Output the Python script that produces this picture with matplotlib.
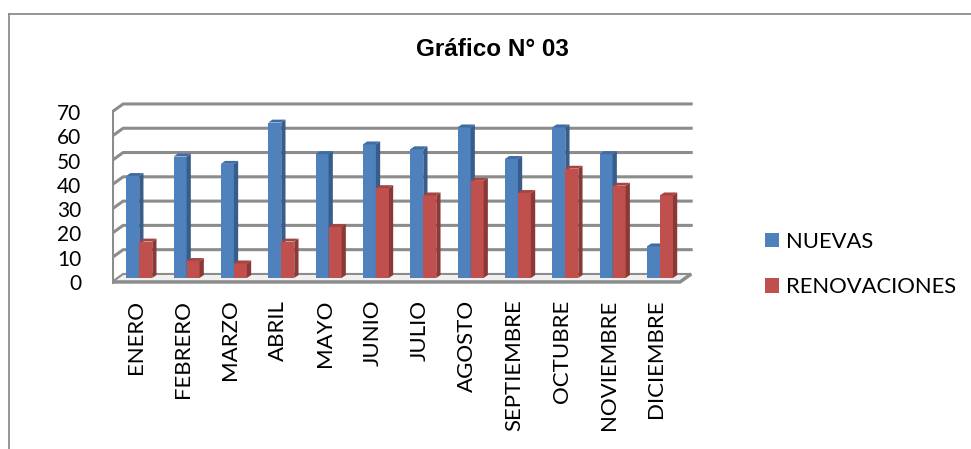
import matplotlib.pyplot as plt
from matplotlib.patches import Polygon, Patch
from matplotlib.lines import Line2D

meses = ['ENERO', 'FEBRERO', 'MARZO', 'ABRIL', 'MAYO', 'JUNIO', 'JULIO',
         'AGOSTO', 'SEPTIEMBRE', 'OCTUBRE', 'NOVIEMBRE', 'DICIEMBRE']
nuevas = [42, 50, 47, 64, 51, 55, 53, 62, 49, 62, 51, 13]
renovaciones = [15, 7, 6, 15, 21, 37, 34, 40, 35, 45, 38, 34]
marcas_y = [0, 10, 20, 30, 40, 50, 60, 70]

series = [('NUEVAS', nuevas, '#4F81BD', '#385D8A', '#3F6CA3'),
          ('RENOVACIONES', renovaciones, '#C0504D', '#8A3937', '#A54440')]

fuente = ['Lato', 'DejaVu Sans']

# desplazamiento de la pared del fondo (efecto 3D)
DX, DY = 0.235, 3.3
# plano de las barras y profundidad de cada barra
BX, BY = 0.0, 1.65
SX, SY = 0.09, 1.2
W = 0.275
CENTRO = 0.075

W_PX, H_PX = 971, 449
fig = plt.figure(figsize=(W_PX / 100, H_PX / 100), dpi=100)

# marco exterior del grafico
fig.add_artist(Line2D([9 / W_PX, 9 / W_PX], [0, 1 - 14 / H_PX],
                      transform=fig.transFigure, color='#8c8c8c', lw=1.3))
fig.add_artist(Line2D([9 / W_PX, 1], [1 - 14 / H_PX, 1 - 14 / H_PX],
                      transform=fig.transFigure, color='#8c8c8c', lw=1.3))

x0_px, x1_px = 112, 699
y0_px, y1_px = 284.4, 97.4
ax = fig.add_axes([x0_px / W_PX, 1 - y0_px / H_PX,
                   (x1_px - x0_px) / W_PX, (y0_px - y1_px) / H_PX])
ax.set_xlim(-0.5, 11.9)
ax.set_ylim(-1, 76)
ax.set_frame_on(False)

n = len(meses)
xi, xf = -0.5, n - 0.5

# piso
ax.add_patch(Polygon([(xi, 0), (xf, 0), (xf + DX, DY), (xi + DX, DY)],
                     closed=True, facecolor='#f0f0f0', edgecolor='#8c8c8c',
                     lw=1.5, zorder=1))
ax.plot([xi, xf, xf + DX], [0, 0, DY], color='#8c8c8c', lw=2.5,
        solid_capstyle='butt', zorder=1.5)

# lineas de division en la pared lateral y del fondo
for v in marcas_y[1:]:
    ax.plot([xi, xi + DX, xf + DX], [v, v + DY, v + DY],
            color='#8c8c8c', lw=2.2, zorder=1)
ax.plot([xi, xi], [0, marcas_y[-1]], color='#8c8c8c', lw=2.2, zorder=1)

# barras con cara frontal, lateral y superior
for i in range(n):
    for s, (nombre, valores, c_frente, c_lado, c_tope) in enumerate(series):
        v = valores[i]
        x0 = i + CENTRO - W + s * W + BX
        x1 = x0 + W
        yb, yt = BY, BY + v
        ax.add_patch(Polygon([(x0, yb), (x1, yb), (x1, yt), (x0, yt)],
                             closed=True, facecolor=c_frente, lw=0, zorder=3))
        ax.add_patch(Polygon([(x1, yb), (x1 + SX, yb + SY), (x1 + SX, yt + SY),
                              (x1, yt)], closed=True, facecolor=c_lado,
                             lw=0, zorder=3))
        ax.add_patch(Polygon([(x0, yt), (x1, yt), (x1 + SX, yt + SY),
                              (x0 + SX, yt + SY)], closed=True,
                             facecolor=c_tope, lw=0, zorder=3))

ax.set_yticks(marcas_y)
ax.set_yticklabels([str(v) for v in marcas_y], family=fuente, fontsize=15)
ax.set_xticks(range(n))
ax.set_xticklabels(meses, rotation=90, family=fuente, fontsize=16)
ax.tick_params(axis='y', length=0, pad=22)
ax.tick_params(axis='x', length=0, pad=11)

fig.text(492 / W_PX, 1 - 50 / H_PX, 'Gráfico N° 03', ha='center', va='center',
         family=['Liberation Sans', 'DejaVu Sans'], fontweight='bold',
         fontsize=17.5)

manejadores = [Patch(facecolor=c, edgecolor='none') for _, _, c, _, _ in series]
fig.legend(manejadores, [s[0] for s in series], loc='upper left',
           bbox_to_anchor=(745 / W_PX, 1 - 212 / H_PX), frameon=False,
           handlelength=0.65, handleheight=0.65, handletextpad=0.33,
           labelspacing=1.15, prop={'family': fuente, 'size': 15.8})

fig.savefig('out.png', dpi=100)
